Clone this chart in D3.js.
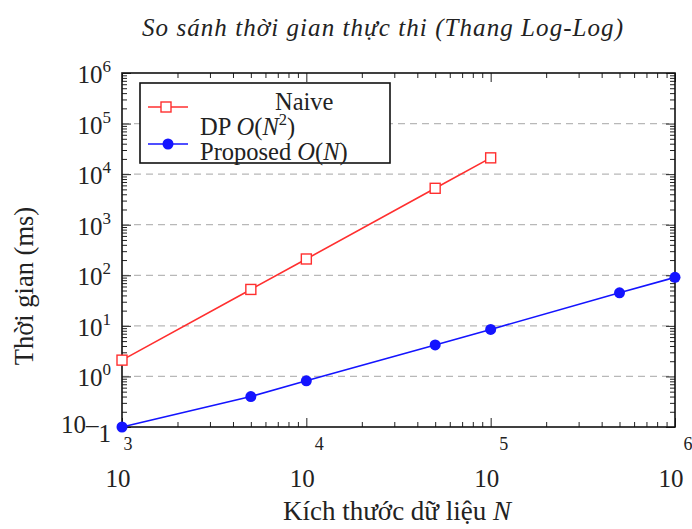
<!DOCTYPE html>
<html>
<head>
<meta charset="utf-8">
<script src="https://cdn.jsdelivr.net/npm/d3@7"></script>
<style>
  body { margin: 0; background: #fff; }
  svg { display: block; font-family: "Liberation Serif", "DejaVu Serif", serif; }
</style>
</head>
<body>
<svg id="chart" width="692" height="529"></svg>
<script>
// data
const sizesNaive = [1e3, 5e3, 1e4, 5e4, 1e5];
const timesNaive = [2.1, 52.5, 210, 5250, 21000];
const sizesFast = [1e3, 5e3, 1e4, 5e4, 1e5, 5e5, 1e6];
const timesFast = [0.1, 0.4, 0.82, 4.2, 8.5, 45, 91];
const xExps = [3, 4, 5, 6];
const yExps = [-1, 0, 1, 2, 3, 4, 5, 6];
const legendLabels = ["Naive", "DP O(N2)", "Proposed O(N)"];

const svg = d3.select("#chart");
const pLeft = 122, pRight = 675, pTop = 73, pBottom = 427;

const x = d3.scaleLog().domain([1e3, 1e6]).range([pLeft, pRight]);
const y = d3.scaleLog().domain([0.1, 1e6]).range([pBottom, pTop]);

// dashed grid at decades
svg.append("g").selectAll("line")
  .data(yExps.filter(e => e > -1 && e < 6))
  .join("line")
  .attr("x1", pLeft).attr("x2", pRight)
  .attr("y1", d => y(Math.pow(10, d))).attr("y2", d => y(Math.pow(10, d)))
  .attr("stroke", "#b8b8b8").attr("stroke-width", 1.2)
  .attr("stroke-dasharray", "7,5");

// ticks on all four sides, pointing inward
const isDecade = v => Math.abs(Math.log10(v) - Math.round(Math.log10(v))) < 1e-9;
const xMinor = x.ticks().filter(v => !isDecade(v));
const yMinor = y.ticks().filter(v => !isDecade(v));
const xMajor = xExps.map(e => Math.pow(10, e));
const yMajor = yExps.map(e => Math.pow(10, e));

function addAxis(gen, tr, vals, size) {
  const g = svg.append("g").attr("transform", tr)
    .call(gen.tickValues(vals).tickSize(size).tickFormat(""));
  g.select(".domain").remove();
  g.selectAll("line").attr("stroke", "#222").attr("stroke-width", 1);
}
addAxis(d3.axisBottom(x), `translate(0,${pBottom})`, xMinor, -5);
addAxis(d3.axisBottom(x), `translate(0,${pBottom})`, xMajor, -9);
addAxis(d3.axisTop(x), `translate(0,${pTop})`, xMinor, -5);
addAxis(d3.axisTop(x), `translate(0,${pTop})`, xMajor, -9);
addAxis(d3.axisLeft(y), `translate(${pLeft},0)`, yMinor, -5);
addAxis(d3.axisLeft(y), `translate(${pLeft},0)`, yMajor, -9);
addAxis(d3.axisRight(y), `translate(${pRight},0)`, yMinor, -5);
addAxis(d3.axisRight(y), `translate(${pRight},0)`, yMajor, -9);

// frame
svg.append("rect")
  .attr("x", pLeft).attr("y", pTop)
  .attr("width", pRight - pLeft).attr("height", pBottom - pTop)
  .attr("fill", "none").attr("stroke", "#111").attr("stroke-width", 1.6);

// y tick labels
yExps.forEach(e => {
  const yy = y(Math.pow(10, e));
  const t = svg.append("text")
    .attr("x", 111).attr("y", e < 0 ? yy + 6 : yy + 10)
    .attr("text-anchor", "end")
    .attr("font-size", 25).attr("fill", "#222");
  t.append("tspan").text("10");
  if (e < 0) {
    t.append("tspan").text("–");
    t.append("tspan").attr("dy", 9).text(String(-e));
  } else {
    t.append("tspan").attr("font-size", 17).attr("dy", -11).text(String(e));
  }
});

// x tick labels (exponent drawn under the tick, base below it)
xExps.forEach(e => {
  const xx = x(Math.pow(10, e));
  svg.append("text")
    .attr("x", xx + (e === 3 ? 6 : 13)).attr("y", 450)
    .attr("text-anchor", "middle")
    .attr("font-size", 18).attr("fill", "#222")
    .text(String(e));
  svg.append("text")
    .attr("x", xx - 4).attr("y", 487)
    .attr("text-anchor", "middle")
    .attr("font-size", 25).attr("fill", "#222")
    .text("10");
});

// axis titles
svg.append("text")
  .attr("transform", "translate(33,286) rotate(-90)")
  .attr("text-anchor", "middle")
  .attr("font-size", 26.5).attr("fill", "#222")
  .text("Thời gian (ms)");

const xt = svg.append("text")
  .attr("x", 397).attr("y", 520)
  .attr("text-anchor", "middle")
  .attr("font-size", 27).attr("fill", "#222");
xt.append("tspan").text("Kích thước dữ liệu ");
xt.append("tspan").attr("font-style", "italic").text("N");

// title
svg.append("text")
  .attr("x", 142).attr("y", 36)
  .attr("textLength", 481).attr("lengthAdjust", "spacing")
  .attr("font-size", 25).attr("font-style", "italic").attr("fill", "#222")
  .text("So sánh thời gian thực thi (Thang Log-Log)");

// series
const line = d3.line().x(d => x(d[0])).y(d => y(d[1]));
const naive = sizesNaive.map((s, i) => [s, timesNaive[i]]);
const fast = sizesFast.map((s, i) => [s, timesFast[i]]);
const red = "#ff2f2f", blue = "#1414ff";

svg.append("path").datum(naive).attr("d", line)
  .attr("fill", "none").attr("stroke", red).attr("stroke-width", 1.6);
svg.append("g").selectAll("rect").data(naive).join("rect")
  .attr("x", d => x(d[0]) - 5).attr("y", d => y(d[1]) - 5)
  .attr("width", 10).attr("height", 10)
  .attr("fill", "#fff").attr("stroke", red).attr("stroke-width", 1.4);

svg.append("path").datum(fast).attr("d", line)
  .attr("fill", "none").attr("stroke", blue).attr("stroke-width", 1.6);
svg.append("g").selectAll("circle").data(fast).join("circle")
  .attr("cx", d => x(d[0])).attr("cy", d => y(d[1]))
  .attr("r", 5.5).attr("fill", blue);

// legend
const lg = svg.append("g");
lg.append("rect").attr("x", 140).attr("y", 83).attr("width", 250).attr("height", 80)
  .attr("fill", "#fff").attr("stroke", "#111").attr("stroke-width", 1.6);
lg.append("line").attr("x1", 148).attr("x2", 188).attr("y1", 107).attr("y2", 107)
  .attr("stroke", red).attr("stroke-width", 1.6);
lg.append("rect").attr("x", 161).attr("y", 102).attr("width", 10).attr("height", 10)
  .attr("fill", "#fff").attr("stroke", red).attr("stroke-width", 1.4);
lg.append("line").attr("x1", 148).attr("x2", 188).attr("y1", 144).attr("y2", 144)
  .attr("stroke", blue).attr("stroke-width", 1.6);
lg.append("circle").attr("cx", 168).attr("cy", 144).attr("r", 5.5).attr("fill", blue);

lg.append("text").attr("x", 275).attr("y", 110)
  .attr("font-size", 24.5).attr("fill", "#222").text(legendLabels[0]);

const t2 = lg.append("text").attr("x", 200).attr("y", 135)
  .attr("font-size", 24.5).attr("fill", "#222");
t2.append("tspan").text("DP ");
t2.append("tspan").attr("font-style", "italic").text("O");
t2.append("tspan").text("(");
t2.append("tspan").attr("font-style", "italic").text("N");
t2.append("tspan").attr("font-size", 16.5).attr("dy", -10).text("2");
t2.append("tspan").attr("dy", 10).text(")");

const t3 = lg.append("text").attr("x", 200).attr("y", 160)
  .attr("font-size", 24.5).attr("fill", "#222");
t3.append("tspan").text("Proposed ");
t3.append("tspan").attr("font-style", "italic").text("O");
t3.append("tspan").text("(");
t3.append("tspan").attr("font-style", "italic").text("N");
t3.append("tspan").text(")");
</script>
</body>
</html>
